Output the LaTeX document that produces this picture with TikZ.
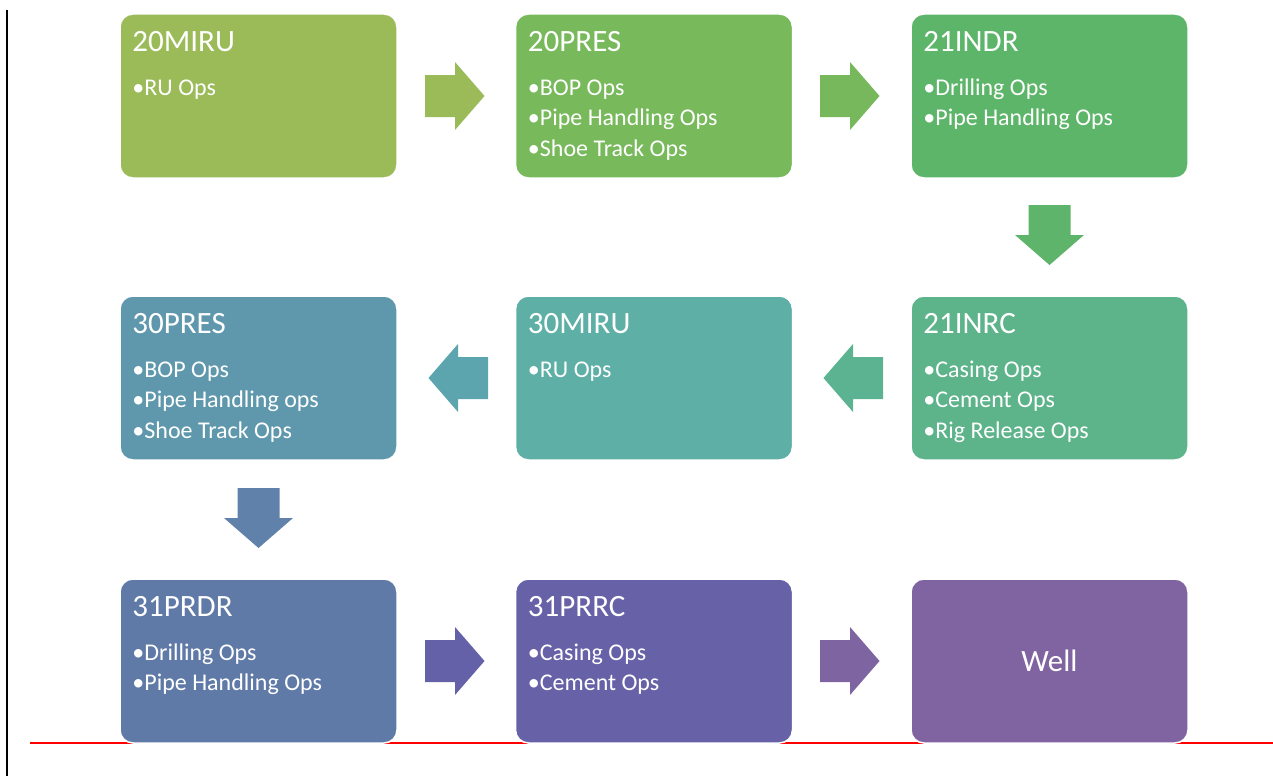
\documentclass[tikz,border=0pt]{standalone}
\usepackage{fontspec}
\setmainfont{Carlito}
\usetikzlibrary{calc}
\definecolor{c1}{HTML}{9BBB59}
\definecolor{c2}{HTML}{77B95B}
\definecolor{c3}{HTML}{5DB56A}
\definecolor{c4}{HTML}{5DB38A}
\definecolor{c5}{HTML}{5EAFA6}
\definecolor{c6}{HTML}{5F98AD}
\definecolor{c7}{HTML}{607AA8}
\definecolor{c8}{HTML}{6762A8}
\definecolor{c9}{HTML}{8064A2}
\definecolor{a1}{HTML}{9BBB59}
\definecolor{a2}{HTML}{76B85B}
\definecolor{a3}{HTML}{5DB46A}
\definecolor{a4}{HTML}{5CB391}
\definecolor{a5}{HTML}{5DA5AE}
\definecolor{a6}{HTML}{6081A9}
\definecolor{a7}{HTML}{6561A8}
\definecolor{a8}{HTML}{7F64A2}
\tikzset{
  stagebox/.style={rectangle, rounded corners=13pt, draw=white, line width=1.5pt,
    minimum width=277pt, minimum height=164pt, inner sep=0pt},
  titletext/.style={anchor=base west, inner sep=0pt, text=white, font=\fontsize{31}{37}\selectfont},
  itemtext/.style={anchor=base west, inner sep=0pt, text=white, font=\fontsize{24}{30}\selectfont},
  rarr/.pic={\fill[pic actions] (-30,-21) -- (0,-21) -- (0,-34) -- (29.5,0) -- (0,34) -- (0,21) -- (-30,21) -- cycle;},
  larr/.pic={\fill[pic actions] (30,-21) -- (0,-21) -- (0,-34) -- (-29.5,0) -- (0,34) -- (0,21) -- (30,21) -- cycle;},
  darr/.pic={\fill[pic actions] (-21,-30) -- (-21,0) -- (-34.5,0) -- (0,30) -- (34.5,0) -- (21,0) -- (21,-30) -- cycle;}
}
\begin{document}
\begin{tikzpicture}[x=1pt,y=-1pt]
\useasboundingbox (0,0) rectangle (1273,776);
% page rules
\coordinate (vtop) at (6.7,10);
\coordinate (vbot) at (6.7,776);
\draw[line width=1.6pt, black] (vtop) -- (vbot);
\coordinate (rl) at (30,743);
\coordinate (rr) at (1273,743);
\draw[line width=1.8pt, red] (rl) -- (rr);
% boxes
\node[stagebox, fill=c1] (b1) at (258.5,96) {};
\node[stagebox, fill=c2] (b2) at (654,96) {};
\node[stagebox, fill=c3] (b3) at (1049.5,96) {};
\node[stagebox, fill=c4] (b4) at (1049.5,378) {};
\node[stagebox, fill=c5] (b5) at (654,378) {};
\node[stagebox, fill=c6] (b6) at (258.5,378) {};
\node[stagebox, fill=c7] (b7) at (258.5,661) {};
\node[stagebox, fill=c8] (b8) at (654,661) {};
\node[stagebox, fill=c9] (b9) at (1049.5,661) {};
% texts
\node[titletext] (t1) at ($(b1.north west)+(13,38)$) {20MIRU};
\node[itemtext] (t1a) at ($(b1.north west)+(13,82)$) {•RU Ops};

\node[titletext] (t2) at ($(b2.north west)+(13,38)$) {20PRES};
\node[itemtext] (t2a) at ($(b2.north west)+(13,82)$) {•BOP Ops};
\node[itemtext] (t2b) at ($(b2.north west)+(13,112.5)$) {•Pipe Handling Ops};
\node[itemtext] (t2c) at ($(b2.north west)+(13,143)$) {•Shoe Track Ops};

\node[titletext] (t3) at ($(b3.north west)+(13,38)$) {21INDR};
\node[itemtext] (t3a) at ($(b3.north west)+(13,82)$) {•Drilling Ops};
\node[itemtext] (t3b) at ($(b3.north west)+(13,112.5)$) {•Pipe Handling Ops};

\node[titletext] (t4) at ($(b4.north west)+(13,38)$) {21INRC};
\node[itemtext] (t4a) at ($(b4.north west)+(13,82)$) {•Casing Ops};
\node[itemtext] (t4b) at ($(b4.north west)+(13,112.5)$) {•Cement Ops};
\node[itemtext] (t4c) at ($(b4.north west)+(13,143)$) {•Rig Release Ops};

\node[titletext] (t5) at ($(b5.north west)+(13,38)$) {30MIRU};
\node[itemtext] (t5a) at ($(b5.north west)+(13,82)$) {•RU Ops};

\node[titletext] (t6) at ($(b6.north west)+(13,38)$) {30PRES};
\node[itemtext] (t6a) at ($(b6.north west)+(13,82)$) {•BOP Ops};
\node[itemtext] (t6b) at ($(b6.north west)+(13,112.5)$) {•Pipe Handling ops};
\node[itemtext] (t6c) at ($(b6.north west)+(13,143)$) {•Shoe Track Ops};

\node[titletext] (t7) at ($(b7.north west)+(13,38)$) {31PRDR};
\node[itemtext] (t7a) at ($(b7.north west)+(13,82)$) {•Drilling Ops};
\node[itemtext] (t7b) at ($(b7.north west)+(13,112.5)$) {•Pipe Handling Ops};

\node[titletext] (t8) at ($(b8.north west)+(13,38)$) {31PRRC};
\node[itemtext] (t8a) at ($(b8.north west)+(13,82)$) {•Casing Ops};
\node[itemtext] (t8b) at ($(b8.north west)+(13,112.5)$) {•Cement Ops};

\node[inner sep=0pt, text=white, font=\fontsize{31}{37}\selectfont] (t9) at (b9.center) {Well};
% block arrows
\pic[fill=a1] at (455,96) {rarr};
\pic[fill=a2] at (850,96) {rarr};
\pic[fill=a3] at (1049.5,235) {darr};
\pic[fill=a4] at (853,378) {larr};
\pic[fill=a5] at (458,378) {larr};
\pic[fill=a6] at (258.5,518) {darr};
\pic[fill=a7] at (455,661) {rarr};
\pic[fill=a8] at (850,661) {rarr};
\end{tikzpicture}
\end{document}
